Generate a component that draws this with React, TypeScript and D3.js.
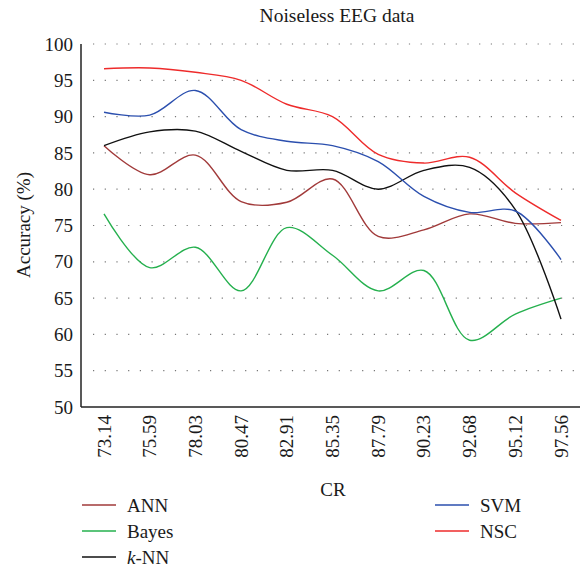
import * as d3 from "d3";

const categories = ["73.14", "75.59", "78.03", "80.47", "82.91", "85.35", "87.79", "90.23", "92.68", "95.12", "97.56"];
const annValues = [86.0, 82.0, 84.7, 78.3, 78.2, 81.4, 73.5, 74.4, 76.6, 75.3, 75.4];
const bayesValues = [76.6, 69.2, 72.0, 66.0, 74.7, 70.9, 66.0, 68.8, 59.2, 62.8, 65.0];
const knnValues = [86.0, 87.9, 88.0, 85.2, 82.6, 82.6, 80.0, 82.6, 83.0, 77.2, 62.1];
const svmValues = [90.6, 90.2, 93.6, 88.2, 86.6, 86.0, 83.8, 79.0, 76.8, 77.0, 70.3];
const nscValues = [96.6, 96.7, 96.1, 95.0, 91.7, 90.0, 84.8, 83.6, 84.4, 79.5, 75.7];
const yTicks = [50, 55, 60, 65, 70, 75, 80, 85, 90, 95, 100];

const series = [
  { name: "ANN", values: annValues, color: "#a13a3a", col: 0, row: 0 },
  { name: "Bayes", values: bayesValues, color: "#25b04e", col: 0, row: 1 },
  { name: "k-NN", values: knnValues, color: "#111111", col: 0, row: 2 },
  { name: "SVM", values: svmValues, color: "#2b4fae", col: 1, row: 0 },
  { name: "NSC", values: nscValues, color: "#ee2b2b", col: 1, row: 1 },
];

const W = 580;
const H = 567;
const left = 81;
const right = 580;
const top = 44;
const bottom = 407;
const font = "'Liberation Serif', 'Times New Roman', serif";
const fs = 19;

export default function App() {
  const x = d3.scalePoint<string>().domain(categories).range([104, 561]);
  const y = d3.scaleLinear().domain([50, 100]).range([bottom, top]);
  const line = d3
    .line<number>()
    .x((_, i) => x(categories[i])!)
    .y((d) => y(d))
    .curve(d3.curveCatmullRom.alpha(0.5));

  // draw order: back to front
  const drawOrder = ["Bayes", "ANN", "k-NN", "SVM", "NSC"];

  return (
    <svg width={W} height={H} style={{ position: "absolute", left: 0, top: 0, background: "#fff" }} fontFamily={font}>
      <text x={337} y={22} textAnchor="middle" fontSize={19.5} fill="#1a1a1a">
        Noiseless EEG data
      </text>

      {/* dotted grid */}
      {yTicks
        .filter((t) => t > 50)
        .map((t) => (
          <line
            key={t}
            x1={93}
            x2={576}
            y1={y(t)}
            y2={y(t)}
            stroke="#777"
            strokeWidth={1.2}
            strokeDasharray="1.2 10.5"
          />
        ))}

      {/* axes */}
      <line x1={left} x2={left} y1={top} y2={bottom} stroke="#222" strokeWidth={1.5} />
      <line x1={left} x2={right} y1={bottom} y2={bottom} stroke="#222" strokeWidth={1.5} />

      {yTicks.map((t) => (
        <text key={t} x={73} y={y(t)} dy="0.35em" textAnchor="end" fontSize={fs} fill="#1a1a1a">
          {t}
        </text>
      ))}

      {categories.map((c) => (
        <text
          key={c}
          transform={`translate(${x(c)! + 6.5},415) rotate(-90)`}
          textAnchor="end"
          fontSize={fs}
          fill="#1a1a1a"
        >
          {c}
        </text>
      ))}

      <text x={333} y={496} textAnchor="middle" fontSize={fs} fill="#1a1a1a">
        CR
      </text>
      <text transform={`translate(30,225) rotate(-90)`} textAnchor="middle" fontSize={fs} fill="#1a1a1a">
        Accuracy (%)
      </text>

      {drawOrder.map((n) => {
        const s = series.find((d) => d.name === n)!;
        return <path key={n} d={line(s.values)!} fill="none" stroke={s.color} strokeWidth={1.4} />;
      })}

      {/* legend */}
      {series.map((s) => {
        const lx = s.col === 0 ? 82 : 435;
        const ly = 505 + s.row * 26;
        return (
          <g key={s.name}>
            <line x1={lx} x2={lx + 34} y1={ly} y2={ly} stroke={s.color} strokeWidth={1.4} />
            <text x={lx + 45} y={ly} dy="0.35em" fontSize={fs} fill="#1a1a1a">
              {s.name === "k-NN" ? (
                <>
                  <tspan fontStyle="italic">k</tspan>-NN
                </>
              ) : (
                s.name
              )}
            </text>
          </g>
        );
      })}
    </svg>
  );
}
